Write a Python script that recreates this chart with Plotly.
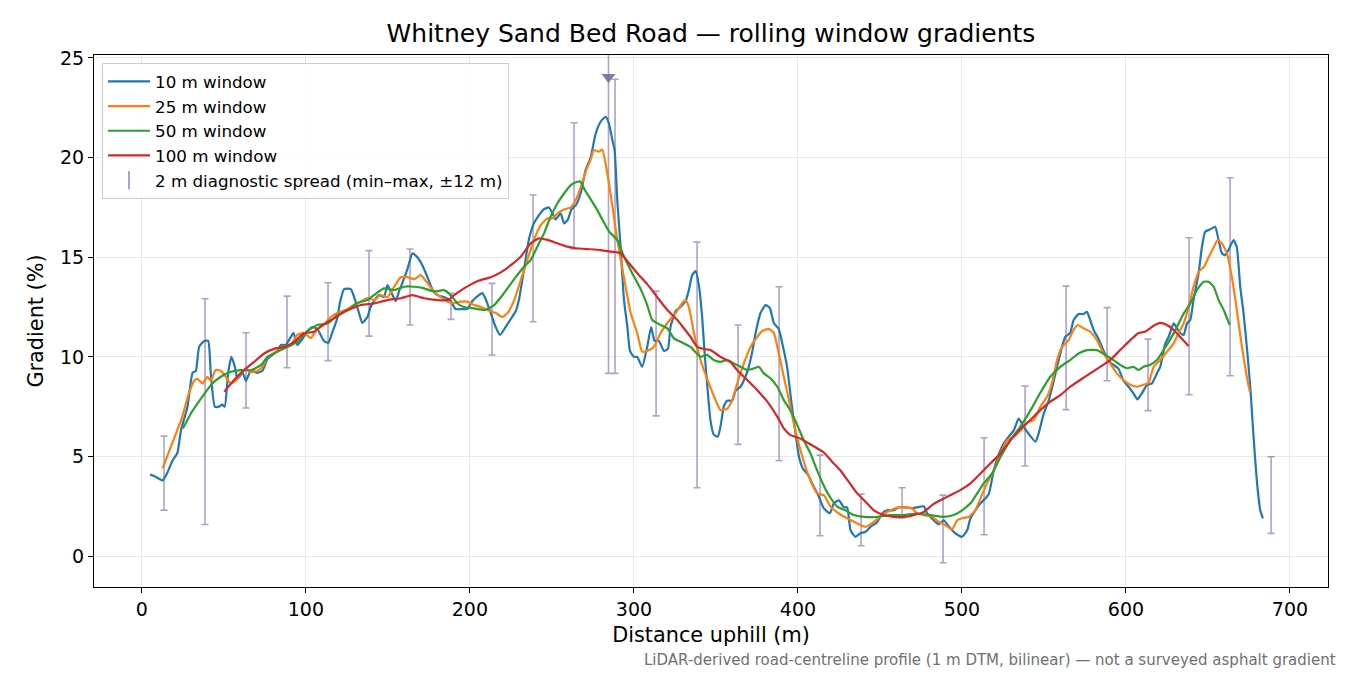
#!/usr/bin/env python3
"""
Whitney Sand Bed Road - rolling window gradients (Plotly rebuild)
"""

import plotly.graph_objects as go

# ---- data ------------------------------------------------------------------
# 10 m rolling window
W10_X = [5, 8, 10, 12.6, 15.6, 18.7, 21.7, 23.8, 27.8, 30.9, 32.9, 34.9, 38, 40.4, 42, 44.5,
         47.1, 49, 50.5, 52.6, 54.6, 56.7, 58.3, 61.4, 63.4, 66.4, 70.5, 73.5, 76.6, 79.6,
         82.6, 84.7, 87.7, 90.8, 92.4, 94.8, 97.9, 101, 104, 107, 111, 113.6, 116, 119, 121,
         123.3, 127.4, 129.4, 132.4, 134.4, 137.5, 139.5, 141.5, 144.6, 147.6, 149.7, 151.7,
         154.8, 156.8, 158.8, 161.9, 165, 168, 171, 174.1, 177.1, 180.1, 184.2, 188.3, 191.3,
         195.4, 198.4, 201.5, 205.5, 207.6, 209.6, 212.7, 215.7, 218.4, 221.8, 224.9, 228,
         230, 233, 236, 239, 242, 245, 248.2, 250.3, 252.3, 255.3, 257.4, 259.8, 261.9,
         264.5, 267.5, 270.6, 273.6, 276.7, 279.7, 282.8, 284.8, 286.8, 288.2, 289.9, 291.9,
         293.9, 296, 297.6, 300, 302, 305, 308.1, 310.5, 312.6, 315.2, 318.3, 320.7, 322.3,
         325.4, 328.4, 331.5, 333.5, 335.5, 337.6, 339.6, 341.6, 343, 344.6, 346.7, 348.7,
         351.2, 353.2, 354.8, 356.9, 359.9, 362, 365, 368, 370, 372, 374.2, 377.2, 380.3,
         382.9, 385.3, 388.3, 390.4, 393.4, 395.9, 398.5, 400.6, 403, 406, 409.6, 412.7,
         415.8, 419.5, 421.9, 425, 428, 430, 432.1, 435.1, 438.1, 441.2, 444.2, 448.3, 451.3,
         454.4, 458.4, 461.5, 465.5, 469.6, 472.6, 476.7, 478.8, 482.8, 485.9, 488.9, 491.9,
         496, 500.1, 503.2, 505.2, 508.2, 511.3, 514.3, 516.3, 519.4, 522.4, 525.5, 528.5,
         531.5, 534.6, 537.6, 541, 544.8, 546.8, 549.9, 552.9, 556, 558, 561, 563, 566,
         568.1, 571.1, 574.2, 576.2, 578.2, 580.3, 583.3, 586.4, 589.4, 592.4, 595.5, 598.5,
         601.6, 604.6, 607, 609.7, 612.8, 615.9, 618.9, 620.9, 624, 626, 629.1, 631.1, 633.1,
         635.2, 637.2, 639.2, 641.2, 644.3, 646.3, 648.3, 651.4, 654.4, 656.5, 658.5, 660.5,
         662.5, 665.6, 667.6, 669.7, 671.7, 673.7, 675.8, 677.8, 679.8, 681.9, 683.5]
W10_Y = [4.1, 4.0, 3.9, 3.8, 4.2, 4.8, 5.2, 6.3, 7.5, 9.2, 9.3, 10.5, 10.8, 10.8, 9.2, 7.5,
         7.5, 7.6, 7.5, 9.2, 10.0, 9.5, 8.9, 9.2, 8.8, 9.3, 9.2, 9.3, 9.9, 10.1,
         10.3, 10.6, 10.6, 11.0, 11.2, 10.6, 10.9, 11.3, 11.5, 11.4, 10.8, 10.7, 11.2, 11.9, 12.8,
         13.4, 13.4, 13.0, 12.2, 11.7, 12.0, 12.5, 12.8, 13.1, 13.0, 13.6, 13.3,
         12.8, 13.3, 13.7, 14.4, 15.2, 15.0, 14.6, 14.0, 13.4, 13.1, 13.0, 12.8, 12.4,
         12.4, 12.4, 12.8, 13.1, 13.2, 12.9, 12.2, 11.5, 11.1, 11.5, 11.9, 12.3,
         12.9, 14.4, 15.9, 16.7, 17.1, 17.4, 17.5, 17.2, 16.9, 17.2, 16.7, 16.9, 17.4,
         17.6, 18.2, 19.4, 20.0, 21.2, 21.8, 22.05, 21.7, 20.9, 20.4, 17.8, 15.5,
         12.9, 11.5, 10.3, 10.0, 10.0, 9.5, 10.5, 11.5, 10.8, 10.8, 10.3, 10.4, 11.5,
         12.3, 12.5, 12.8, 13.35, 14.1, 14.3, 13.6, 12.0, 10.3, 8.7, 6.8, 6.1,
         6.0, 6.7, 7.5, 7.8, 7.8, 8.3, 8.5, 9.0, 9.5, 10.2, 11.2, 12.2, 12.6,
         12.45, 11.7, 11.4, 10.7, 9.5, 7.8, 6.2, 5.0, 4.4, 4.1, 3.5, 3.0,
         2.4, 2.15, 2.65, 2.8, 2.45, 2.45, 1.3, 0.97, 1.15, 1.22, 1.47, 1.7, 2.14,
         2.3, 2.3, 2.45, 2.45, 2.4, 2.45, 2.5, 2.14, 1.8, 1.6, 1.8, 1.5,
         1.14, 0.97, 1.3, 1.9, 2.3, 2.65, 2.9, 3.1, 4.3, 5.1, 5.66, 6.0,
         6.3, 6.9, 6.5, 6.1, 5.74, 6.16, 7.16, 7.8, 8.8, 9.5, 10.5, 11.0, 11.2,
         11.85, 12.15, 12.15, 12.26, 11.85, 11.35, 10.9, 10.3, 9.8, 9.6, 9.4, 8.8,
         8.5, 8.17, 7.87, 8.17, 8.58, 8.67, 9.17, 9.5, 10.68, 11.0, 11.68, 11.43, 11.2,
         11.1, 11.68, 11.85, 12.85, 14.2, 15.5, 16.28, 16.4, 16.53, 15.86, 15.2, 15.1,
         15.36, 15.86, 15.5, 13.5, 12.2, 10.5, 8.5, 6.0, 3.8, 2.3, 1.9]

# 25 m rolling window
W25_X = [12.6, 17.7, 23.8, 28.8, 31.9, 33.9, 37, 40, 42, 45, 48.1, 51.1, 54.2, 57.2, 60.3,
         63.4, 66.4, 70.5, 73.5, 76.6, 80.6, 85.7, 90.8, 94.8, 98.9, 103, 107, 111, 115.2,
         119.2, 125.3, 129.4, 133.4, 137.5, 141.5, 145.6, 149.7, 153.7, 157.8, 161.9, 166,
         170, 174.1, 178.2, 182.2, 186.3, 190.4, 194.4, 198.5, 202.6, 206.7, 210.7, 215.8,
         219.8, 222.9, 227, 231, 235, 239, 243.1, 247.2, 250.3, 253.3, 257.4, 261.5, 264.5,
         267.5, 270.6, 273.6, 275.6, 278.7, 280.7, 283.8, 286.8, 289.9, 293.9, 298, 302, 305,
         308.1, 312.1, 316.3, 320.4, 325.4, 329.5, 331.5, 333.5, 336.6, 340.6, 345.7, 349.8,
         352.8, 356.9, 359.9, 363, 367, 371.1, 375.2, 378.2, 382.3, 385.3, 388.3, 391.4,
         394.5, 397.5, 401.6, 406.6, 411.7, 415.8, 419.9, 425, 430, 436.2, 441.2, 446.3,
         451.3, 456.4, 461.5, 466.5, 469.6, 472.6, 476.7, 481.8, 485.9, 489.9, 494, 497.1,
         500.1, 504.2, 508.2, 511.3, 515.3, 519.4, 523.5, 527.5, 531.6, 535.6, 539.7, 543.8,
         547.8, 551.9, 554.9, 558, 561, 565.1, 568.1, 570.6, 574.2, 578.2, 582.3, 586.4,
         590.4, 594.5, 598.5, 602.6, 606.7, 610.7, 613.8, 616.9, 620.9, 625, 629.1, 632.1,
         635.2, 638.2, 641.2, 644.3, 647.4, 650.4, 653.5, 655.9, 658.5, 661.6, 664.6, 667.6,
         670.7, 673.7, 675.5]
W25_Y = [4.4, 5.5, 6.8, 8.2, 8.8, 8.9, 8.67, 9.0, 8.8, 9.34, 9.3, 9.0, 8.67, 8.8, 9.17,
         9.4, 9.25, 9.3, 9.5, 10.0, 10.2, 10.5, 10.6, 11.1, 11.2, 10.95, 11.4, 11.6, 12.0,
         12.2, 12.4, 12.6, 12.77, 12.95, 12.85, 13.1, 13.0, 13.5, 14.0, 14.0, 13.9,
         14.1, 13.7, 13.27, 13.0, 12.77, 12.7, 12.77, 12.77, 12.6, 12.5, 12.35, 12.2,
         12.0, 12.2, 12.85, 13.85, 14.86, 15.86, 16.6, 16.95, 16.95, 17.2, 17.4, 17.5, 17.87,
         18.5, 19.3, 19.9, 20.38, 20.3, 20.4, 19.2, 17.6, 15.86, 14.0, 12.2, 11.2, 10.26,
         10.3, 10.5, 11.2, 11.7, 12.2, 12.7, 12.85, 12.5, 11.2, 9.84, 8.67, 7.83,
         7.33, 7.4, 7.83, 8.67, 9.67, 10.5, 11.0, 11.3, 11.4, 11.2, 10.17, 9.0,
         7.83, 6.66, 5.3, 4.0, 3.15, 3.06, 2.48, 2.14, 1.9, 1.64, 1.47, 1.72,
         2.06, 2.3, 2.45, 2.45, 2.4, 2.14, 2.06, 1.97, 1.72, 1.56, 1.34, 1.8,
         1.9, 1.97, 2.3, 2.9, 3.65, 4.3, 5.15, 5.8, 6.0, 6.3, 6.7, 6.83,
         7.5, 8.0, 8.67, 9.84, 10.5, 10.84, 11.35, 11.6, 11.43, 11.26, 10.84, 10.17,
         9.67, 9.17, 8.84, 8.6, 8.5, 8.6, 8.7, 9.5, 9.84, 10.26, 10.68, 11.2,
         11.68, 12.5, 13.5, 14.27, 14.5, 15.0, 15.5, 15.86, 15.7, 15.2, 14.0, 12.35,
         10.5, 9.0, 8.25]

# 50 m rolling window
W50_X = [25, 29.9, 36, 42, 48.1, 54.2, 60.3, 66.4, 72.5, 76.6, 82.6, 88.7, 94.8, 101, 107,
         113.2, 119.2, 125.3, 131.3, 137.5, 141.5, 147.6, 153.7, 159.9, 166, 172.1, 178.2,
         184.2, 188.3, 192.4, 196.4, 202.6, 208.7, 214.8, 220.8, 227, 233, 237, 241.1, 245.2,
         249.2, 253.3, 257.4, 261.5, 265.5, 267.5, 269.6, 272.6, 276.7, 280.7, 284.8, 289.9,
         293.9, 299, 304.1, 308.1, 311.2, 316.3, 320.4, 324.4, 328.4, 334.5, 340.6, 344.6,
         348.7, 352.8, 356.9, 360.9, 365, 369.1, 373.1, 376.2, 379.2, 383.3, 387.4, 391.4,
         395.5, 399.5, 403.6, 407.7, 411.7, 417.8, 423.9, 429, 434.1, 440.2, 448.3, 456.4,
         464.5, 472.6, 480.8, 488.9, 495, 500.1, 505.2, 509.3, 513.3, 518.4, 523.5, 529.6,
         535.6, 541.7, 547.8, 553.9, 560, 566, 571.1, 576.2, 582.3, 587.4, 592.4, 596.5,
         600.6, 604.6, 607.7, 610.7, 614.8, 618.9, 622.9, 629.1, 635.2, 639.2, 643.3, 647.4,
         650.4, 653.5, 656.5, 659.6, 663.3]
W50_Y = [6.4, 7.16, 7.9, 8.58, 9.0, 9.25, 9.33, 9.33, 9.58, 10.0, 10.25, 10.5, 10.75, 11.3, 11.6,
         11.67, 12.1, 12.35, 12.7, 12.85, 13.1, 13.44, 13.35, 13.52, 13.52, 13.44, 13.27,
         13.35, 13.1, 12.68, 12.5, 12.43, 12.35, 12.6, 13.2, 13.9, 14.52, 14.86, 15.53, 16.2,
         17.03, 17.7, 18.2, 18.62, 18.79, 18.79, 18.45, 18.04, 17.5, 16.9, 16.3, 15.86,
         15.03, 14.2, 13.4, 12.6, 11.85, 11.6, 11.43, 10.93, 10.76, 10.5, 10.0, 10.1,
         9.84, 9.75, 9.84, 9.67, 9.5, 9.34, 9.42, 9.5, 9.17, 8.92, 8.5, 7.83,
         7.3, 6.6, 5.8, 5.15, 4.3, 3.2, 2.48, 2.3, 2.06, 1.97, 1.97, 2.06,
         2.06, 2.14, 2.06, 1.97, 2.06, 2.3, 2.65, 3.15, 3.65, 4.15, 4.98, 5.82,
         6.5, 7.3, 8.2, 9.0, 9.5, 9.84, 10.17, 10.34, 10.34, 10.1, 9.84, 9.6,
         9.43, 9.5, 9.34, 9.5, 9.6, 9.84, 10.34, 11.18, 12.18, 12.68, 13.35, 13.77,
         13.77, 13.52, 12.85, 12.35, 11.6]

# 100 m rolling window
W100_X = [50.2, 56.2, 62.3, 68.4, 74.5, 80.6, 86.7, 92.8, 98.9, 104.9, 111, 117.1, 123.3, 133.4,
          141.5, 149.7, 157.8, 164.9, 172.1, 180.1, 186.3, 190.4, 196.4, 204.6, 212.7, 218.8,
          224.9, 231, 237.1, 242.2, 247.2, 253.3, 259.4, 264.5, 273.6, 279.7, 285.8, 291.9,
          297, 302, 308.1, 314.2, 320.4, 326.5, 330.5, 334.5, 338.6, 342.6, 346.7, 352.8,
          358.8, 362.9, 369.1, 375.2, 381.3, 387.4, 391.4, 395.5, 401.6, 407.7, 415.8, 420.8,
          425.9, 431, 436.1, 441.2, 446.3, 452.3, 458.4, 464.5, 470.6, 476.7, 481.8, 486.8,
          492.9, 499, 505.2, 511.3, 517.3, 523.5, 529.6, 535.6, 541.7, 547.8, 553.9, 560,
          566, 572.1, 578.2, 584.3, 590.4, 596.5, 602.6, 607.7, 611.7, 616.9, 620.9, 625,
          629.1, 633.1, 638.2]
W100_Y = [8.25, 8.84, 9.34, 9.75, 10.17, 10.4, 10.5, 10.75, 11.18, 11.26, 11.65, 11.93, 12.25, 12.6,
          12.68, 12.85, 12.94, 13.1, 12.94, 12.85, 12.85, 13.1, 13.44, 13.8, 14.0, 14.24,
          14.6, 15.03, 15.7, 15.95, 15.87, 15.7, 15.53, 15.45, 15.4, 15.36, 15.28, 15.2,
          14.7, 14.2, 13.65, 13.0, 12.35, 11.85, 11.43, 11.0, 10.5, 10.4, 10.34, 10.0,
          9.75, 9.34, 8.84, 8.33, 7.75, 7.0, 6.41, 6.07, 5.9, 5.6, 5.2, 4.74,
          4.3, 3.73, 3.15, 2.73, 2.3, 2.06, 1.97, 1.97, 2.06, 2.22, 2.56, 2.8,
          3.06, 3.31, 3.65, 4.15, 4.65, 5.15, 5.82, 6.37, 6.83, 7.33, 7.75, 8.08,
          8.5, 8.84, 9.17, 9.5, 9.84, 10.34, 10.84, 11.2, 11.26, 11.56, 11.71, 11.6,
          11.35, 11.0, 10.54]

# 2 m diagnostic spread (min / max within +-12 m)
SPREAD_X = [13.5, 38.5, 63.5, 88.5, 113.5, 138.5, 163.5, 188.5, 213.5, 238.5, 263.5, 284.5,
            288.5, 313.5, 338.5, 363.5, 388.5, 413.5, 438.5, 463.5, 488.5, 513.5, 538.5,
            563.5, 588.5, 613.5, 638.5, 663.5, 688.5]
SPREAD_MIN = [2.31, 1.59, 7.43, 9.45, 9.81, 11.04, 11.6, 11.88, 10.09, 11.76, 15.41, 9.17,
              9.17, 7.04, 3.43, 5.61, 4.79, 1.02, 0.52, 1.92, -0.33, 1.07, 4.52,
              7.35, 8.80, 7.30, 8.10, 9.05, 1.14]
SPREAD_MAX = [6.02, 12.92, 11.21, 13.05, 13.72, 15.33, 15.41, 13.19, 13.69, 18.12, 21.75, 30.0,
              23.93, 13.30, 15.76, 11.6, 13.52, 5.07, 3.11, 3.43, 3.06, 5.94, 8.53,
              13.55, 12.47, 10.89, 15.98, 18.99, 4.99]

SERIES = [
    ('10 m window', W10_X, W10_Y, '#1f77b4'),
    ('25 m window', W25_X, W25_Y, '#ff7f0e'),
    ('50 m window', W50_X, W50_Y, '#2ca02c'),
    ('100 m window', W100_X, W100_Y, '#d62728'),
]

X_RANGE = [-29.2, 723.2]
Y_RANGE = [-1.55, 25.15]

FONT = 'DejaVu Sans'
SPREAD_COLOR = 'rgba(120,100,165,0.6)'
CLIP_COLOR = 'rgba(120,104,160,0.9)'

fig = go.Figure()

# diagnostic spread bars (behind the lines)
fig.add_trace(go.Scatter(
    x=SPREAD_X,
    y=SPREAD_MIN,
    mode='markers',
    marker=dict(size=1, opacity=0),
    error_y=dict(
        type='data',
        symmetric=False,
        array=[hi - lo for lo, hi in zip(SPREAD_MIN, SPREAD_MAX)],
        arrayminus=[0] * len(SPREAD_MIN),
        color=SPREAD_COLOR,
        thickness=1.6,
        width=3.5,
    ),
    showlegend=False,
    hoverinfo='skip',
))

# bars running off the top of the axis get a marker
clip_x = [x for x, hi in zip(SPREAD_X, SPREAD_MAX) if hi > Y_RANGE[1]]
fig.add_trace(go.Scatter(
    x=clip_x,
    y=[Y_RANGE[1] - 1.1] * len(clip_x),
    mode='markers',
    marker=dict(symbol='triangle-down', size=12, color=CLIP_COLOR, line=dict(width=0)),
    showlegend=False,
    hoverinfo='skip',
))

for name, xs, ys, color in SERIES:
    fig.add_trace(go.Scatter(
        x=xs, y=ys,
        mode='lines',
        name=name,
        line=dict(color=color, width=2.2, shape='spline', smoothing=0.5),
    ))

# legend entry for the spread bars
fig.add_trace(go.Scatter(
    x=[None], y=[None],
    mode='markers',
    name='2 m diagnostic spread (min–max, ±12 m)',
    marker=dict(symbol='line-ns-open', size=13, color=SPREAD_COLOR,
                line=dict(width=2, color=SPREAD_COLOR)),
))

axis_common = dict(
    showline=True,
    linecolor='black',
    linewidth=1.2,
    mirror=True,
    ticks='outside',
    ticklen=5,
    tickwidth=1.2,
    tickcolor='black',
    showgrid=True,
    gridcolor='#e8e8e8',
    gridwidth=1,
    zeroline=False,
    tickfont=dict(family=FONT, size=19, color='black'),
)

fig.update_xaxes(
    range=X_RANGE,
    tick0=0, dtick=100,
    title=dict(text='Distance uphill (m)', font=dict(family=FONT, size=20.8, color='black'),
               standoff=8),
    **axis_common,
)
fig.update_yaxes(
    range=Y_RANGE,
    tick0=0, dtick=5,
    title=dict(text='Gradient (%)', font=dict(family=FONT, size=20.8, color='black'),
               standoff=10),
    **axis_common,
)

fig.update_layout(
    width=1350,
    height=675,
    margin=dict(l=94, r=22, t=55, b=88),
    plot_bgcolor='white',
    paper_bgcolor='white',
    font=dict(family=FONT, color='black'),
    title=dict(
        text='Whitney Sand Bed Road — rolling window gradients',
        x=0.5, xref='paper', xanchor='center',
        y=1 - 33 / 675, yref='container', yanchor='middle',
        font=dict(family=FONT, size=25, color='black'),
    ),
    showlegend=True,
    legend=dict(
        x=0.0065, y=0.985,
        xanchor='left', yanchor='top',
        bgcolor='rgba(255,255,255,0.85)',
        bordercolor='#cccccc',
        borderwidth=1,
        font=dict(family=FONT, size=16.7, color='black'),
        tracegroupgap=0,
        itemwidth=42,
    ),
    annotations=[dict(
        text='LiDAR-derived road-centreline profile (1 m DTM, bilinear) — not a surveyed asphalt gradient',
        xref='paper', yref='paper',
        x=1.0085, y=-0.137,
        xanchor='right', yanchor='middle',
        showarrow=False,
        font=dict(family=FONT, size=15, color='#707070'),
    )],
)

# drop the browser's default body margin so the figure sits at the page corner
fig.write_html('out.html', config={'displayModeBar': False},
               post_script="document.body.style.margin='0';")
print('saved out.html')
